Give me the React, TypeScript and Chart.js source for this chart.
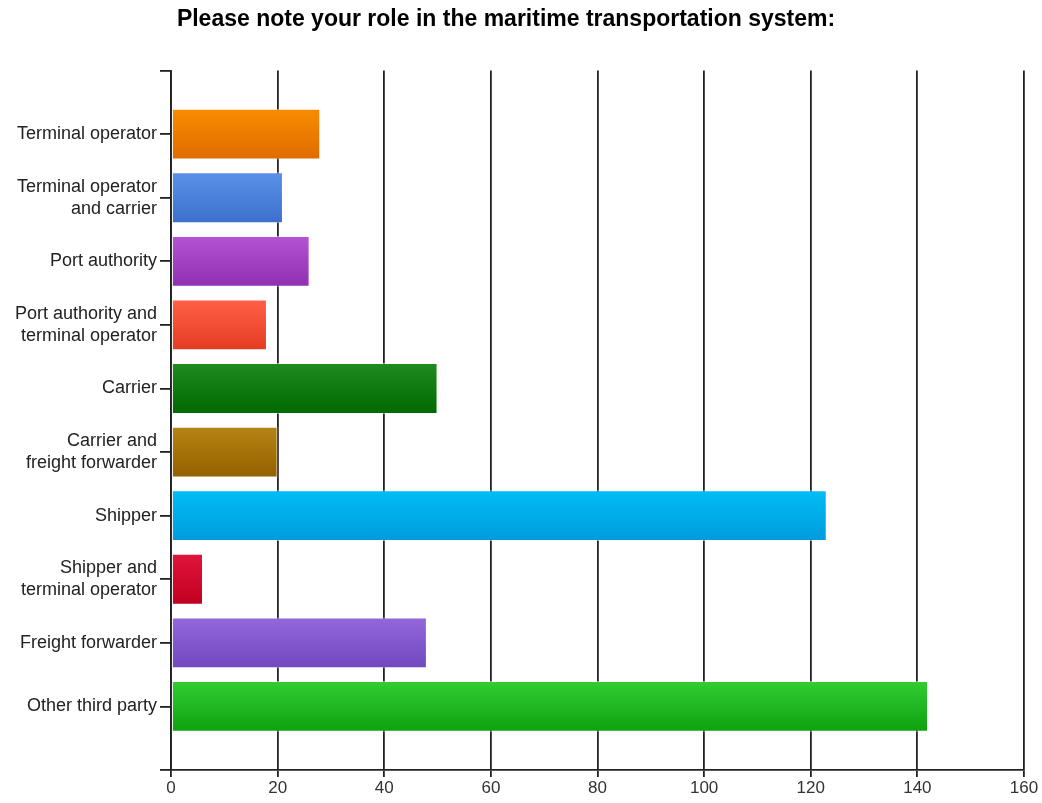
import React, { useEffect, useRef } from "react";
import { Chart, registerables } from "chart.js";

Chart.register(...registerables);

const TITLE = "Please note your role in the maritime transportation system:";

const categories: (string | string[])[] = [
  "Terminal operator",
  ["Terminal operator", "and carrier"],
  "Port authority",
  ["Port authority and", "terminal operator"],
  "Carrier",
  ["Carrier and", "freight forwarder"],
  "Shipper",
  ["Shipper and", "terminal operator"],
  "Freight forwarder",
  "Other third party",
];

const values: number[] = [28, 21, 26, 18, 50, 20, 123, 6, 48, 142];

const topColors: string[] = [
  "#f88c00", "#5b90e8", "#b453d4", "#ff6047", "#1f8a1f",
  "#b58414", "#00bdf5", "#e0143c", "#9466da", "#32cc32",
];
const bottomColors: string[] = [
  "#e06c00", "#3c70cc", "#9030b0", "#e43c22", "#006a00",
  "#946000", "#009cdc", "#c00020", "#7048c0", "#0ea20e",
];

const xTicks: number[] = [0, 20, 40, 60, 80, 100, 120, 140, 160];

export default function App() {
  const ref = useRef<HTMLCanvasElement | null>(null);

  useEffect(() => {
    if (!ref.current) return;
    const labels = ["", ...categories, ""];
    const data = [null, ...values, null];

    const gradient = (c: any) => {
      const chart = c.chart;
      const ys = chart.scales?.y;
      const i = c.dataIndex - 1;
      if (!ys || i < 0 || i >= values.length) return "#888";
      const center = ys.getPixelForValue(c.dataIndex);
      const half = 25;
      const g = chart.ctx.createLinearGradient(0, center - half, 0, center + half);
      g.addColorStop(0, topColors[i]);
      g.addColorStop(1, bottomColors[i]);
      return g;
    };

    const titleShift = {
      id: "titleShift",
      afterLayout(chart: any) {
        const t = chart.titleBlock;
        if (t) t.right = t.left + 1012;
      },
    };

    const chart = new Chart(ref.current, {
      type: "bar",
      data: {
        labels,
        datasets: [
          {
            data: data as any,
            backgroundColor: (c: any) => gradient(c),
            borderColor: "rgba(255,255,255,0.5)",
            borderWidth: 1,
            borderSkipped: false,
            categoryPercentage: 1,
            barPercentage: 0.8,
          },
        ],
      },
      options: {
        indexAxis: "y",
        responsive: false,
        animation: false,
        layout: { padding: { left: 0, right: 18, top: 0, bottom: 0 } },
        plugins: {
          legend: { display: false },
          tooltip: { enabled: false },
          title: {
            display: true,
            text: TITLE,
            color: "#000",
            font: { family: "Liberation Sans", size: 23, weight: "bold" },
            padding: { top: 6, bottom: 37 },
          },
        },
        scales: {
          x: {
            type: "linear",
            min: 0,
            max: 160,
            afterBuildTicks: (s: any) => {
              s.ticks = xTicks.map((v) => ({ value: v }));
            },
            afterFit: (s: any) => {
              s.height = 33;
            },
            grid: {
              color: "#222",
              lineWidth: 1.8,
              drawTicks: true,
              tickLength: 7,
            },
            border: { color: "#222", width: 1.8 },
            ticks: {
              color: "#333",
              padding: 1,
              font: { family: "Liberation Sans", size: 17 },
            },
          },
          y: {
            type: "category",
            offset: false,
            afterFit: (s: any) => {
              s.width = 171;
            },
            grid: {
              offset: false,
              drawOnChartArea: false,
              drawTicks: true,
              tickLength: 11,
              color: "#222",
              lineWidth: 1.8,
            },
            border: { color: "#222", width: 1.8 },
            ticks: {
              color: "#222",
              padding: 3,
              autoSkip: false,
              font: { family: "Liberation Sans", size: 18, lineHeight: 1.22 },
            },
          },
        },
      },
      plugins: [titleShift],
    });
    return () => chart.destroy();
  }, []);

  return (
    <div style={{ position: "fixed", left: 0, top: 0, width: 1042, height: 803, background: "#fff" }}>
      <canvas ref={ref} width={1042} height={803} />
    </div>
  );
}
